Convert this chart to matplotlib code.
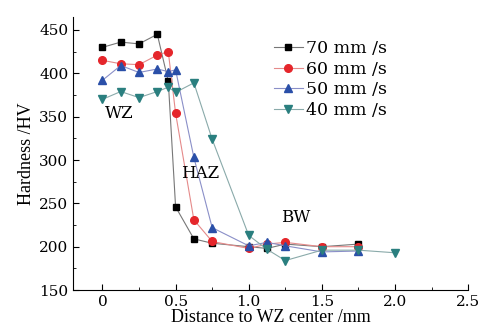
import matplotlib
matplotlib.use('Agg')
import matplotlib.pyplot as plt
from matplotlib.ticker import MultipleLocator

plt.rcParams['font.family'] = ['DejaVu Serif']

# Distance from WZ centre (mm)
dist = [0, 0.125, 0.25, 0.375, 0.45, 0.5, 0.625, 0.75, 1.0, 1.125, 1.25, 1.5, 1.75]
dist_40 = [0, 0.125, 0.25, 0.375, 0.45, 0.5, 0.625, 0.75, 1.0, 1.125, 1.25, 1.5, 1.75, 2.0]

# Hardness (HV) for each welding speed
hv_70 = [430, 436, 434, 445, 391, 246, 209, 204, 200, 198, 203, 200, 203]
hv_60 = [415, 411, 410, 421, 425, 354, 231, 206, 198, 203, 205, 200, 200]
hv_50 = [392, 409, 401, 405, 402, 404, 303, 222, 201, 205, 201, 194, 195]
hv_40 = [370, 379, 372, 379, 384, 378, 389, 324, 213, 197, 184, 196, 196, 193]

fig = plt.figure(figsize=(4.98, 3.33), dpi=100)
ax = fig.add_axes([0.147, 0.129, 0.793, 0.82])

ax.plot(dist, hv_70, color='#777777', lw=0.8, marker='s', ms=4.5,
        mfc='black', mec='black', label='70 mm /s')
ax.plot(dist, hv_60, color='#e58a8a', lw=0.8, marker='o', ms=5.5,
        mfc='#e5262b', mec='#e5262b', label='60 mm /s')
ax.plot(dist, hv_50, color='#8a8fc8', lw=0.8, marker='^', ms=6,
        mfc='#2a4fa8', mec='#2a4fa8', label='50 mm /s')
ax.plot(dist_40, hv_40, color='#8aaaaa', lw=0.8, marker='v', ms=6,
        mfc='#2a7f7f', mec='#2a7f7f', label='40 mm /s')

ax.text(0.02, 354, 'WZ', fontsize=12, va='center', ha='left')
ax.text(0.54, 285, 'HAZ', fontsize=12, va='center', ha='left')
ax.text(1.22, 234, 'BW', fontsize=12, va='center', ha='left')

ax.set_xlim(-0.2, 2.5)
ax.set_ylim(150, 465)
ax.xaxis.set_major_locator(MultipleLocator(0.5))
ax.xaxis.set_minor_locator(MultipleLocator(0.25))
ax.yaxis.set_major_locator(MultipleLocator(50))
ax.yaxis.set_minor_locator(MultipleLocator(25))
ax.set_xticks([0, 0.5, 1.0, 1.5, 2.0, 2.5])
ax.set_xticklabels(['0', '0.5', '1.0', '1.5', '2.0', '2.5'])
ax.tick_params(which='both', direction='in', labelsize=11)
ax.tick_params(which='major', length=4)
ax.tick_params(which='minor', length=2)
for s in ['top', 'right']:
    ax.spines[s].set_visible(False)

ax.set_xlabel('Distance to WZ center /mm', fontsize=13, labelpad=0,
              family='Liberation Serif')
ax.set_ylabel('Hardness /HV', fontsize=13, labelpad=3,
              family='Liberation Serif')

ax.legend(loc='upper left', bbox_to_anchor=(0.49, 0.94), frameon=False,
          fontsize=12.5, handlelength=1.7, handletextpad=0.15,
          labelspacing=0.2, borderaxespad=0)

fig.savefig('out.png', dpi=100)
